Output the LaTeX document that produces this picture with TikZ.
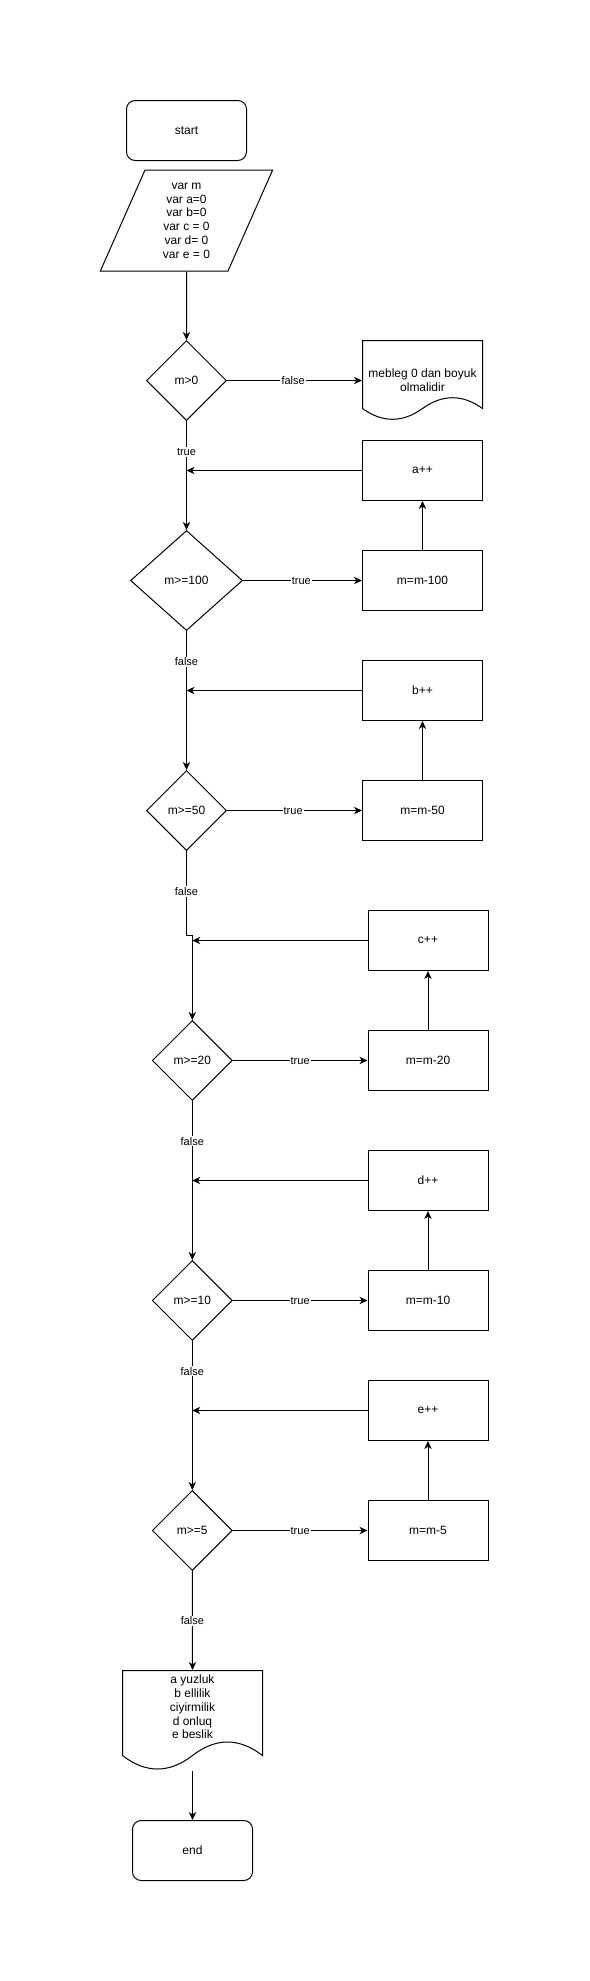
\documentclass[tikz,border=0pt]{standalone}
\usepackage{fontspec}
\setmainfont{Liberation Sans}
\usetikzlibrary{shapes.geometric,arrows.meta,calc}
\begin{document}
\begin{tikzpicture}[x=0.75pt,y=-0.75pt, line width=0.75pt,
  every node/.style={font=\fontsize{9}{10.3}\selectfont, inner sep=0pt},
  term/.style={draw, rounded corners=6.5pt, minimum width=90pt, minimum height=45pt},
  proc/.style={draw, rectangle, minimum width=90pt, minimum height=45pt},
  dec/.style={draw, diamond, minimum width=60pt, minimum height=60pt},
  io/.style={draw, trapezium, trapezium left angle=71.4, trapezium right angle=108.6,
    trapezium stretches=true, minimum width=129.75pt, minimum height=75.75pt, align=center},
  docbox/.style={minimum width=90pt, minimum height=60pt, align=center},
  arr/.style={-{Stealth[length=6pt,width=5.5pt,inset=1.8pt]}},
  lbl/.style={fill=white, font=\fontsize{8.25}{9}\selectfont, inner sep=0.8pt}]
\useasboundingbox (0,0) rectangle (589,1981);

% nodes
\node[term] (start) at (186.5,130.5) {start};
\node[io] (param) at (186.5,220.5) {var m\\var a=0\\var b=0\\var c = 0\\var d= 0\\var e = 0};
\node[dec] (d0) at (186.5,380.5) {m>0};
\node[docbox] (doc1) at (422.5,380.5) {mebleg 0 dan boyuk\\olmalidir};
\node[proc] (ainc) at (422.5,470.5) {a++};
\node[dec, minimum width=84pt, minimum height=75pt] (d100) at (186.5,580.5) {m>=100};
\node[proc] (s100) at (422.5,580.5) {m=m-100};
\node[proc] (binc) at (422.5,690.5) {b++};
\node[dec] (d50) at (186.5,810.5) {m>=50};
\node[proc] (s50) at (422.5,810.5) {m=m-50};
\node[proc] (cinc) at (428,940.5) {c++};
\node[dec] (d20) at (192.3,1060.5) {m>=20};
\node[proc] (s20) at (428,1060.5) {m=m-20};
\node[proc] (dinc) at (428,1180.5) {d++};
\node[dec] (d10) at (192.3,1300.5) {m>=10};
\node[proc] (s10) at (428,1300.5) {m=m-10};
\node[proc] (einc) at (428,1410.5) {e++};
\node[dec] (d5) at (192.3,1530.5) {m>=5};
\node[proc] (s5) at (428,1530.5) {m=m-5};
\node[docbox, minimum width=105pt, minimum height=75pt] (doc2) at (192.5,1720.5) {};
\node[align=center] (doc2txt) at (192.5,1707) {a yuzluk\\b ellilik\\ciyirmilik\\d onluq\\e beslik};
\node[term] (end) at (192.5,1850.5) {end};

% document outlines
\draw (362.5,340.5) -- (482.5,340.5) -- (482.5,408.5)
  .. controls (462.5,394.1) and (442.5,394.1) .. (422.5,408.5)
  .. controls (402.5,422.9) and (382.5,422.9) .. (362.5,408.5) -- cycle;
\draw (122.5,1670.5) -- (262.5,1670.5) -- (262.5,1755.5)
  .. controls (239.17,1737.5) and (215.83,1737.5) .. (192.5,1755.5)
  .. controls (169.17,1773.5) and (145.83,1773.5) .. (122.5,1755.5) -- cycle;

% connectors
\draw[arr] (param.south) -- (d0.north);
\draw[arr] (d0.east) -- node[lbl,pos=0.49]{false} (doc1.west);
\draw[arr] (d0.south) -- node[lbl,pos=0.284]{true} (d100.north);
\draw[arr] (ainc.west) -- (ainc.west -| d0.south);
\draw[arr] (d100.east) -- node[lbl,pos=0.49]{true} (s100.west);
\draw[arr] (s100.north) -- (ainc.south);
\draw[arr] (d100.south) -- node[lbl,pos=0.223]{false} (d50.north);
\draw[arr] (binc.west) -- (binc.west -| d100.south);
\draw[arr] (d50.east) -- node[lbl,pos=0.49]{true} (s50.west);
\draw[arr] (s50.north) -- (binc.south);
\draw[arr] (d50.south) -- node[lbl,pos=0.48]{false} (186.5,935.5) -- (192.3,935.5) -- (d20.north);
\draw[arr] (cinc.west) -- (cinc.west -| d20.north);
\draw[arr] (d20.east) -- node[lbl,pos=0.5]{true} (s20.west);
\draw[arr] (s20.north) -- (cinc.south);
\draw[arr] (d20.south) -- node[lbl,pos=0.253]{false} (d10.north);
\draw[arr] (dinc.west) -- (dinc.west -| d10.north);
\draw[arr] (d10.east) -- node[lbl,pos=0.5]{true} (s10.west);
\draw[arr] (s10.north) -- (dinc.south);
\draw[arr] (d10.south) -- node[lbl,pos=0.203]{false} (d5.north);
\draw[arr] (einc.west) -- (einc.west -| d5.north);
\draw[arr] (d5.east) -- node[lbl,pos=0.5]{true} (s5.west);
\draw[arr] (s5.north) -- (einc.south);
\draw[arr] (d5.south) -- node[lbl,pos=0.505]{false} (doc2.north);
\draw[arr] (doc2.south) -- (end.north);
\end{tikzpicture}
\end{document}
